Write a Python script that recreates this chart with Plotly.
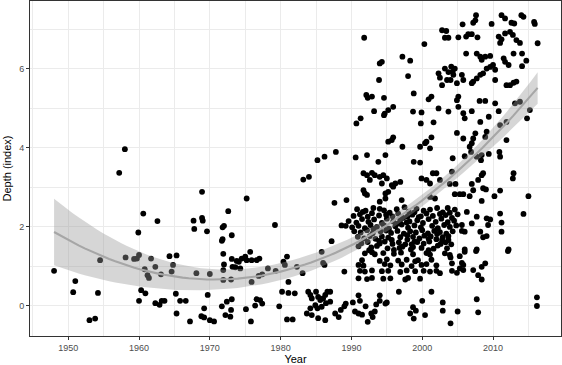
import numpy as np
import plotly.graph_objects as go

# ---- data: (year, depth index) ----
early_pts = [(1948.0,0.88),(1951.0,0.62),(1950.7,0.34),(1954.2,0.32),(1953.0,-0.37),(1953.8,-0.33),
    (1954.5,1.15),(1957.2,3.36),(1958.0,3.96),(1958.1,1.22),(1959.3,1.18),(1959.7,1.19),(1960.0,1.28),
    (1959.9,1.85),(1960.6,2.33),(1962.6,2.14),(1961.7,1.19),(1962.3,0.98),(1960.8,0.92),(1961.2,0.77),
    (1961.4,0.70),(1963.1,0.79),(1964.3,1.25),(1965.3,1.27),(1964.8,1.03),(1964.6,0.86),(1960.3,0.39),
    (1960.9,0.31),(1960.0,0.12),(1962.3,0.06),(1962.9,0.02),(1963.2,0.12),(1963.6,0.12),(1965.2,0.30),
    (1965.3,-0.20),(1965.8,0.12),(1966.6,0.12)]

pts_1967_1974 = [(1967.2,-0.40),(1968.1,0.82),(1968.9,2.88),(1967.7,2.15),(1968.9,2.22),(1969.0,2.15),
    (1967.8,1.94),(1969.6,1.88),(1970.0,0.80),(1969.7,0.27),(1969.2,-0.07),(1968.8,-0.27),(1969.2,-0.30),
    (1970.0,-0.37),(1970.6,-0.40),(1971.8,1.98),(1972.0,2.02),(1972.6,2.39),(1973.1,1.78),(1971.7,1.64),
    (1971.8,1.68),(1971.9,1.31),(1973.1,1.18),(1973.8,1.13),(1974.1,1.11),(1972.0,1.04),(1971.9,0.90),
    (1973.2,0.98),(1973.6,0.97),(1971.9,0.65),(1973.0,0.66),(1973.1,0.16),(1972.4,0.10),(1971.7,-0.02),
    (1972.2,-0.24),(1972.9,-0.28),(1973.0,-0.11)]

pts_1975_1989 = [(1987.8,3.89),(1990.6,3.75),(1992.2,3.81),(1985.2,3.68),(1986.2,3.77),(1983.2,3.19),
    (1984.0,3.26),(1975.2,2.71),(1987.6,2.60),(1989.3,2.67),(1979.2,2.04),(1989.2,2.02),(1987.2,1.63),
    (1985.8,1.36),(1986.0,1.08),(1986.2,1.03),(1983.1,0.82),(1982.3,0.98),(1981.1,0.60),(1979.3,0.88),
    (1978.2,0.94),(1980.4,1.11),(1980.9,1.24),(1980.6,1.03),(1976.9,0.75),(1977.4,0.79),(1975.9,0.60),
    (1974.5,1.19),(1975.0,1.24),(1975.2,1.15),(1975.7,1.36),(1975.9,1.15),(1976.6,1.15),(1977.0,1.19),
    (1974.3,0.94),(1989.0,0.86),
    (1980.2,0.35),(1981.1,0.32),(1982.0,0.31),(1979.8,-0.02),(1980.9,-0.35),(1981.7,-0.35),(1975.8,-0.40),
    (1975.1,-0.09),(1976.4,0.00),(1977.1,0.14),(1977.4,0.05),(1976.6,0.16),
    (1983.9,0.35),(1984.2,0.27),(1985.0,0.35),(1985.3,0.22),(1985.6,0.14),(1986.0,0.18),(1986.3,0.27),
    (1986.6,0.35),(1984.4,0.18),(1984.9,0.01),(1985.2,-0.07),(1985.8,-0.03),(1986.4,0.06),(1987.0,0.10),
    (1983.7,-0.20),(1984.4,-0.24),(1985.3,-0.32),(1986.3,-0.37),(1984.2,-0.07),(1987.0,0.35)]

bottom_late = [(1987.7,-0.20),(1988.2,-0.29),(1988.5,-0.11),(1989.0,-0.02),(1989.2,0.05),(1990.2,0.08),
    (1990.5,-0.15),(1991.0,0.26),(1991.2,0.12),(1991.0,-0.20),(1991.5,-0.23),(1992.0,-0.02),(1992.3,-0.41),
    (1992.8,-0.20),(1993.0,-0.29),(1993.3,-0.15),(1993.5,0.03),(1994.0,0.26),(1994.0,0.12),(1994.8,0.05),
    (1995.0,0.08),
    (1996.7,0.35),(1998.3,-0.20),(1998.7,-0.04),(1998.8,-0.33),(1999.1,-0.13),(2000.0,0.12),(2000.4,-0.24),
    (2001.3,0.35),(2002.9,0.08),(2002.9,-0.13),(2004.0,-0.45),(2005.0,-0.15),(2007.7,0.16),(2007.9,-0.17),
    (2016.2,0.21),(2016.2,-0.01)]

upper_1990_2004 = [(1991.8,6.78),(1994.0,6.13),(1994.3,6.17),(1993.9,5.71),(1997.2,6.30),(1998.3,6.20),
    (2000.3,6.62),(2002.8,6.97),(2003.4,6.95),(2003.2,6.78),(2003.7,6.78),(1998.0,5.81),(2002.3,5.88),
    (2002.5,5.77),(2003.2,6.00),(2003.5,5.71),(2002.8,5.58),(2003.7,5.91),(1998.8,5.37),(1992.1,5.33),
    (1992.3,5.26),(1992.9,5.29),(1994.6,5.26),(2000.9,5.22),(2001.3,5.29),(1993.2,4.92),(1994.7,4.86),
    (1995.2,4.95),(1995.9,5.03),(1994.6,4.82),(1990.7,4.61),(1991.3,4.74),(1998.7,4.91),(1999.9,4.89),
    (1999.8,4.61),(2001.6,4.64),(2002.3,4.99),(2003.7,4.91),(1995.2,4.15),(1995.7,4.19),(1995.9,4.26),
    (1997.2,4.02),(1999.7,4.02),(2000.4,4.11),(2000.6,4.15),(2001.3,4.26),(2001.1,3.98),(1994.8,3.81)]

upper_2004_2016 = [(2007.6,7.35),(2007.5,7.22),(2007.2,7.16),(2005.7,7.12),(2009.8,7.13),(2011.2,7.35),
    (2011.7,7.27),(2012.6,7.16),(2013.0,7.14),(2014.0,7.35),(2014.3,7.31),(2015.8,7.18),(2015.9,7.13),
    (2016.3,6.64),(2005.1,6.79),(2006.2,6.81),(2006.5,6.87),(2007.0,6.87),(2007.8,6.79),(2010.8,6.81),
    (2011.0,6.65),(2011.2,6.74),(2011.7,6.89),(2012.4,6.93),(2012.8,6.85),(2013.3,6.72),(2013.8,6.65),
    (2006.2,6.38),(2007.7,6.38),(2008.2,6.30),(2008.9,6.30),(2009.6,6.32),(2008.4,6.22),(2011.5,6.26),
    (2011.7,6.17),(2012.2,6.09),(2012.9,6.38),(2014.1,6.38),(2014.7,6.20),(2014.1,6.06),
    (2004.1,6.05),(2004.3,5.92),(2004.6,6.00),(2004.4,5.84),(2004.0,5.71),(2005.6,5.84),(2005.8,5.71),
    (2004.9,5.63),(2007.2,5.67),(2007.7,5.75),(2008.2,5.84),(2008.6,5.88),(2007.0,5.63),(2009.1,6.00),
    (2009.6,6.04),(2010.0,6.09),(2010.3,5.97),(2010.3,5.71),(2011.9,5.58),(2012.4,5.58),(2012.9,5.64),
    (2013.3,5.67),(2005.1,5.29),(2004.9,5.20),(2008.1,5.18),(2008.9,5.18),(2010.3,5.12),(2005.1,5.03),
    (2005.8,4.87),(2007.0,4.92),(2006.0,4.74),(2010.8,4.92),(2009.4,4.78),(2008.2,4.65),(2011.9,4.65),
    (2013.1,5.12),(2013.8,5.16),(2015.2,4.95),(2014.8,4.74),
    (2004.9,4.37),(2005.8,4.23),(2007.5,4.36),(2007.2,4.23),(2007.0,4.11),(2008.9,4.27),(2009.1,4.40),
    (2011.0,4.57),(2011.9,4.19),(2006.7,4.02),(2006.9,3.89),(2008.4,3.81),(2009.4,3.84),(2010.9,3.89),
    (2011.0,3.77),(2004.3,3.73),(2006.0,3.78),(2007.7,3.77),(2008.3,3.68)]

mid_2004_2016 = [(2008.6,3.35),(2008.4,3.30),(2007.9,3.18),(2012.9,3.35),(2012.8,3.22),(2004.2,3.39),
    (2003.9,3.08),(2004.7,3.08),(2007.0,3.08),(2007.2,2.92),(2008.6,2.97),(2009.0,2.94),(2011.0,2.91),
    (2004.6,2.82),(2005.3,2.82),(2005.8,2.82),(2006.7,2.77),(2008.4,2.65),(2010.2,2.77),(2015.0,2.77),
    (2006.3,2.37),(2007.7,2.25),(2009.1,2.21),(2009.6,2.18),(2011.0,2.33),(2011.2,2.10),(2014.3,2.32),
    (2005.6,2.04),(2007.0,2.08),(2009.3,2.04),(2006.0,1.87),(2005.6,1.89),(2008.2,1.87),(2009.1,1.76),
    (2008.6,1.73),(2011.2,1.87),(2003.5,1.45),(2006.0,1.42),(2007.7,1.42),(2012.2,1.42),
    (2002.8,1.66),(2003.7,1.66),(2003.9,1.28),(2004.0,1.22),(2005.3,1.25),(2006.0,1.36),(2007.6,1.38),
    (2012.1,1.38),(2004.2,1.07),(2005.6,1.08),(2005.8,1.03),(2005.3,0.94),(2004.2,0.88),(2004.9,0.83),
    (2005.8,0.90),(2007.2,0.90),(2008.4,0.98),(2008.9,1.07),(2007.9,0.77),(2008.4,0.66),(2002.5,0.82)]

low_1990_2003 = [(1991.9,1.32),(1992.9,1.35),(1993.3,1.30),(1994.5,1.33),(1996.0,1.31),(1997.0,1.34),
    (1998.7,1.30),(2000.6,1.33),(2001.1,1.29),(2003.2,1.32),
    (1991.5,1.15),(1994.0,1.13),(1995.0,1.17),(1996.6,1.14),(1997.8,1.16),(1999.0,1.12),(1999.4,1.15),(2001.3,1.16),
    (1991.0,1.03),(1991.7,1.01),(1994.7,1.05),(1995.5,1.02),(1997.1,1.04),(1998.5,1.00),(1999.9,1.03),
    (2000.6,1.05),(2002.0,1.02),
    (1991.2,0.88),(1991.9,0.86),(1992.9,0.89),(1994.3,0.87),(1995.2,0.88),(1996.9,0.85),(1997.8,0.89),
    (1999.0,0.87),(2000.2,0.88),(2001.1,0.86),(2002.0,0.88),
    (1991.0,0.69),(1992.2,0.67),(1992.9,0.70),(1994.5,0.68),(1995.5,0.69),(1997.6,0.66),(1998.0,0.70),(1999.7,0.68)]

mid_1990_2003 = [(1993.8,3.64),(1998.8,3.64),(1999.7,3.62),(1991.7,3.35),(1992.2,3.30),(1992.9,3.36),
    (1993.3,3.30),(1994.0,3.26),(1994.5,3.30),(1995.0,3.22),(1992.6,3.18),(1994.3,3.09),(1995.7,3.05),
    (1996.2,3.09),(1996.9,3.13),(1995.2,2.88),(1995.9,3.01),(1994.8,2.84),(1991.7,2.92),(1991.9,2.84),
    (1992.2,2.80),(1994.0,2.63),(1994.8,2.71),(1997.1,2.67),(1999.9,3.22),(2000.6,3.18),(2001.1,3.09),
    (2001.5,3.35),(2002.0,3.35),(2002.5,3.18),(2001.1,2.75),(2001.8,2.71)]

dense_band = [
    (1990.8,2.44),(1991.6,2.37),(1993.1,2.47),(1994.6,2.41),(1995.4,2.35),(1997.5,2.49),
    (1998.1,2.38),(1999.2,2.45),(2000.2,2.40),(2002.1,2.47),(2002.9,2.36),(2004.6,2.43),
    (1990.3,2.27),(1991.2,2.31),(1992.3,2.25),(1992.9,2.34),(1993.9,2.28),(1995.8,2.26),
    (1996.6,2.33),(1997.3,2.22),(1998.6,2.30),(1999.5,2.24),(2000.6,2.33),(2001.5,2.27),
    (2003.3,2.29),(2004.2,2.22),(2005.0,2.31),
    (1989.6,2.14),(1990.7,2.10),(1991.5,2.19),(1992.4,2.12),(1993.2,2.18),(1994.3,2.09),
    (1995.0,2.20),(1995.9,2.13),(1996.9,2.17),(1997.8,2.10),(1999.3,2.16),(2000.1,2.09),
    (2000.9,2.19),(2001.9,2.12),(2002.7,2.20),(2003.6,2.11),(2004.5,2.15),
    (1988.6,2.03),(1990.1,1.98),(1991.0,2.02),(1991.9,1.96),(1992.7,2.04),(1993.6,1.99),
    (1994.6,2.03),(1995.3,1.95),(1996.2,2.01),(1997.1,2.05),(1998.0,1.97),(1998.9,2.03),
    (1999.8,1.98),(2001.4,2.02),(2002.2,1.96),(2003.1,2.04),(2003.9,1.99),(2004.8,2.03),
    (1990.4,1.88),(1991.3,1.85),(1992.2,1.91),(1993.0,1.83),(1994.9,1.90),(1995.6,1.84),
    (1996.5,1.89),(1997.4,1.82),(1998.3,1.88),(1999.1,1.85),(2000.0,1.91),(2000.8,1.83),
    (2001.7,1.89),(2002.5,1.86),(2003.4,1.82),(2004.3,1.88),
    (1990.9,1.74),(1991.8,1.70),(1992.6,1.76),(1993.4,1.69),(1994.3,1.75),(1995.2,1.72),
    (1996.9,1.73),(1997.9,1.67),(1998.7,1.74),(1999.6,1.70),(2001.2,1.75),(2002.0,1.68),
    (2002.9,1.73),
    (1991.4,1.58),(1992.3,1.61),(1994.0,1.57),(1994.7,1.62),(1995.8,1.56),(1996.7,1.60),
    (1998.5,1.55),(1999.3,1.61),(2000.2,1.57),(2001.0,1.62),(2002.6,1.56),(2003.3,1.60),
    (1992.8,1.47),(1995.1,1.45),(1997.2,1.49),(1999.9,1.46),(2001.6,1.44),
    (1992.5,1.40),(1996.0,1.41),(1998.4,1.42),(2000.9,1.40)]

# further points filling the solid black core of the 1990-2005 cluster
dense_core = [(1992.0,2.40),(1994.0,2.45),(1996.4,2.44),(1998.9,2.36),(2001.1,2.43),(2003.6,2.47),
    (1994.9,2.30),(1997.9,2.25),(2002.5,2.32),(2003.9,2.35),(1998.2,2.13),(1999.8,2.26),
    (1993.1,1.94),(1994.1,1.88),(1996.6,2.08),(1997.9,1.78),(2000.3,1.77),(2002.1,1.81),
    (1993.9,1.64),(1995.7,1.66),(1997.6,1.55),(1998.9,1.62),(2000.9,1.69),(2003.7,1.76),
    (1991.0,1.50),(1993.6,1.51),(1996.8,1.46),(1998.7,1.48),(2002.2,1.52),(2004.1,1.55)]

all_pts = (early_pts + pts_1967_1974 + pts_1975_1989 + bottom_late + upper_1990_2004 +
           upper_2004_2016 + mid_2004_2016 + low_1990_2003 + mid_1990_2003 + dense_band + dense_core)
year = np.array([p[0] for p in all_pts])
depth = np.array([p[1] for p in all_pts])

# ---- quadratic linear-model smoother with 95% confidence band ----
xc = year - year.mean()
X = np.column_stack([np.ones_like(xc), xc, xc**2])
beta = np.linalg.lstsq(X, depth, rcond=None)[0]
n, p = X.shape
resid = depth - X @ beta
s2 = resid @ resid / (n - p)
XtXi = np.linalg.inv(X.T @ X)
grid = np.linspace(year.min(), year.max(), 80)
gc = grid - year.mean()
G = np.column_stack([np.ones_like(gc), gc, gc**2])
fit = G @ beta
se = np.sqrt(np.einsum('ij,jk,ik->i', G, XtXi, G) * s2)
tq = 1.964
lo, hi = fit - tq * se, fit + tq * se

fig = go.Figure()
fig.add_trace(go.Scatter(x=year, y=depth, mode='markers',
                         marker=dict(color='black', size=5.8, line=dict(width=0)),
                         hoverinfo='skip'))
fig.add_trace(go.Scatter(x=grid, y=lo, mode='lines', line=dict(width=0), hoverinfo='skip'))
fig.add_trace(go.Scatter(x=grid, y=hi, mode='lines', line=dict(width=0), fill='tonexty',
                         fillcolor='rgba(153,153,153,0.4)', hoverinfo='skip'))
fig.add_trace(go.Scatter(x=grid, y=fit, mode='lines', line=dict(color='#A6A6A6', width=2.1),
                         hoverinfo='skip'))

font_fam = 'Liberation Sans, Arial, Helvetica, sans-serif'
axis_common = dict(showline=True, linecolor='#333333', linewidth=1, mirror=True,
                   ticks='outside', ticklen=3, tickcolor='#333333', tickwidth=1,
                   tickfont=dict(family=font_fam, size=9, color='#4D4D4D'),
                   showgrid=True, gridcolor='#EBEBEB', gridwidth=1, zeroline=False)

fig.update_layout(
    width=562, height=365, showlegend=False,
    margin=dict(l=30, r=1, t=1, b=29),
    plot_bgcolor='white', paper_bgcolor='white',
    font=dict(family=font_fam),
    xaxis=dict(range=[1944.6, 2019.6], tickvals=[1950, 1960, 1970, 1980, 1990, 2000, 2010],
               minor=dict(tickvals=[1945, 1955, 1965, 1975, 1985, 1995, 2005, 2015], showgrid=True,
                          gridcolor='#EBEBEB', gridwidth=0.6, ticks=''),
               title=dict(text='Year', font=dict(family=font_fam, size=11, color='black'), standoff=3),
               **axis_common),
    yaxis=dict(range=[-0.77, 7.71], tickvals=[0, 2, 4, 6],
               minor=dict(tickvals=[1, 3, 5, 7], showgrid=True, gridcolor='#EBEBEB', gridwidth=0.6, ticks=''),
               title=dict(text='Depth (index)', font=dict(family=font_fam, size=11, color='black'), standoff=5),
               **axis_common),
)
fig.write_html('out.html', config={'displayModeBar': False},
               post_script="document.body.style.margin='0';document.body.style.overflow='hidden';")
